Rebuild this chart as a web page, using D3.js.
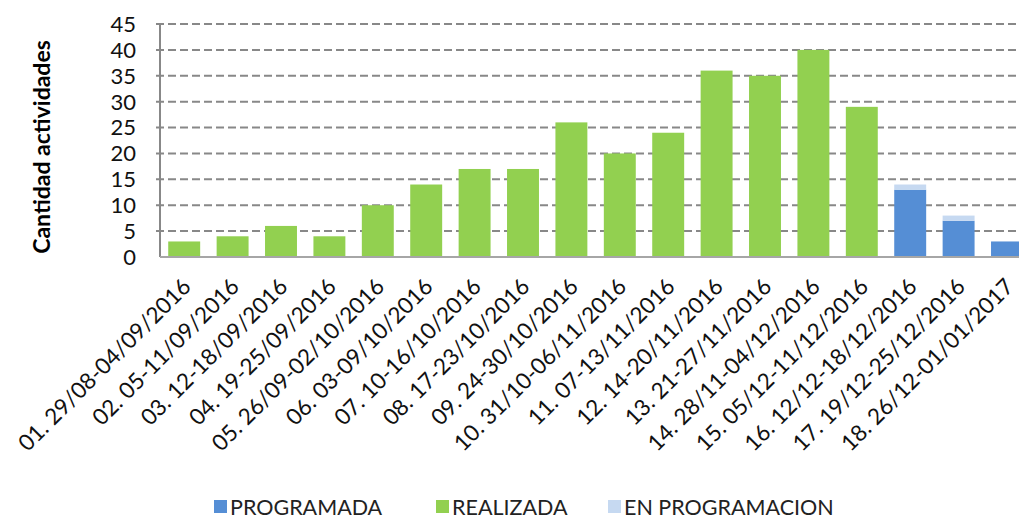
<!DOCTYPE html>
<html>
<head>
<meta charset="utf-8">
<script src="https://cdn.jsdelivr.net/npm/d3@7"></script>
<style>
  body { margin: 0; background: #fff; }
  svg { display: block; font-family: Lato, "Open Sans", sans-serif; }
</style>
</head>
<body>
<div id="canvas"></div>
<script>
var width = 1019;
var height = 519;

// data
var categories = [
  "01. 29/08-04/09/2016", "02. 05-11/09/2016", "03. 12-18/09/2016", "04. 19-25/09/2016",
  "05. 26/09-02/10/2016", "06. 03-09/10/2016", "07. 10-16/10/2016", "08. 17-23/10/2016",
  "09. 24-30/10/2016", "10. 31/10-06/11/2016", "11. 07-13/11/2016", "12. 14-20/11/2016",
  "13. 21-27/11/2016", "14. 28/11-04/12/2016", "15. 05/12-11/12/2016", "16. 12/12-18/12/2016",
  "17. 19/12-25/12/2016", "18. 26/12-01/01/2017"
];
var programada     = [0,0,0,0,0,0,0,0,0,0,0,0,0,0,0,13,7,3];
var realizada      = [3,4,6,4,10,14,17,17,26,20,24,36,35,40,29,0,0,0];
var enProgramacion = [0,0,0,0,0,0,0,0,0,0,0,0,0,0,0,1,1,0];
var yTicks = [0,5,10,15,20,25,30,35,40,45];

var seriesNames = ["PROGRAMADA", "REALIZADA", "EN PROGRAMACION"];
var colors = ["#558ed5", "#92d050", "#c6d9f1"];

var rows = categories.map(function(c, i) {
  return { cat: c, PROGRAMADA: programada[i], REALIZADA: realizada[i], "EN PROGRAMACION": enProgramacion[i] };
});

var svg = d3.select("#canvas").append("svg")
  .attr("width", width)
  .attr("height", height);

var plotLeft = 160, plotTop = 24, plotBottom = 257;
var step = 48.4;

var x = d3.scaleBand()
  .domain(categories)
  .range([plotLeft, plotLeft + step * categories.length])
  .paddingInner(0.34)
  .paddingOuter(0.17);

var y = d3.scaleLinear()
  .domain([0, 45])
  .range([plotBottom, plotTop]);

// gridlines
svg.append("g")
  .selectAll("line")
  .data(yTicks.filter(function(d) { return d > 0; }))
  .enter().append("line")
  .attr("x1", plotLeft - 4)
  .attr("x2", width)
  .attr("y1", function(d) { return y(d); })
  .attr("y2", function(d) { return y(d); })
  .attr("stroke", "#888")
  .attr("stroke-width", 2)
  .attr("stroke-dasharray", "8,4");

// bars
var stack = d3.stack().keys(seriesNames)(rows);
svg.append("g")
  .selectAll("g")
  .data(stack)
  .enter().append("g")
  .attr("fill", function(d, i) { return colors[i]; })
  .selectAll("rect")
  .data(function(d) { return d; })
  .enter().append("rect")
  .attr("x", function(d) { return x(d.data.cat); })
  .attr("width", x.bandwidth())
  .attr("y", function(d) { return y(d[1]); })
  .attr("height", function(d) { return y(d[0]) - y(d[1]); });

// axis lines
svg.append("line")
  .attr("x1", plotLeft).attr("x2", plotLeft)
  .attr("y1", plotTop).attr("y2", plotBottom)
  .attr("stroke", "#888").attr("stroke-width", 2);
svg.append("line")
  .attr("x1", plotLeft).attr("x2", width)
  .attr("y1", plotBottom).attr("y2", plotBottom)
  .attr("stroke", "#a6a6a6").attr("stroke-width", 2);

// y tick labels
svg.append("g")
  .selectAll("text")
  .data(yTicks)
  .enter().append("text")
  .attr("x", 136)
  .attr("y", function(d) { return y(d); })
  .attr("dy", "0.36em")
  .attr("text-anchor", "end")
  .attr("font-size", 22)
  .attr("fill", "#111")
  .text(function(d) { return d; });

// y axis title
svg.append("text")
  .attr("transform", "translate(50,147) rotate(-90)")
  .attr("text-anchor", "middle")
  .attr("font-size", 23)
  .attr("font-weight", "bold")
  .text("Cantidad  actividades");

// x labels
svg.append("g")
  .selectAll("text")
  .data(categories)
  .enter().append("text")
  .attr("transform", function(d) {
    return "translate(" + (x(d) + x.bandwidth() / 2 + 8) + "," + 288 + ") rotate(-45)";
  })
  .attr("text-anchor", "end")
  .attr("font-size", 22.5)
  .attr("fill", "#111")
  .text(function(d) { return d; });

// legend
var legendX = [214, 436, 608];
var legend = svg.append("g")
  .selectAll("g")
  .data(seriesNames)
  .enter().append("g")
  .attr("transform", function(d, i) { return "translate(" + legendX[i] + ",500)"; });
legend.append("rect")
  .attr("width", 13).attr("height", 13)
  .attr("fill", function(d, i) { return colors[i]; });
legend.append("text")
  .attr("x", 16)
  .attr("y", 7)
  .attr("dy", "0.36em")
  .attr("font-size", 21.5)
  .attr("fill", "#222")
  .text(function(d) { return d; });
</script>
</body>
</html>
